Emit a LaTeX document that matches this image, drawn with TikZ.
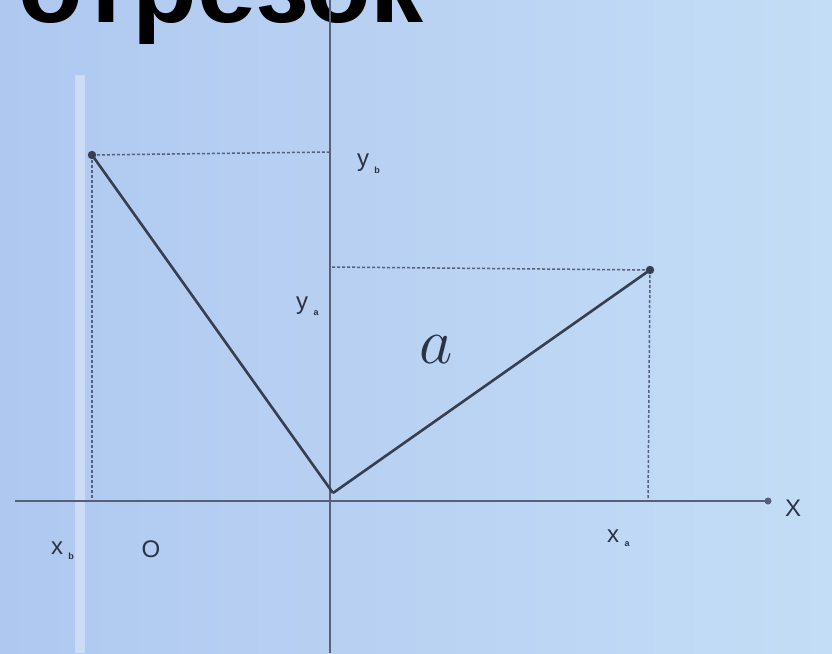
\documentclass[tikz,border=0pt]{standalone}
\usepackage{fontspec}
\setmainfont{Liberation Sans}
\usetikzlibrary{arrows.meta}
\definecolor{bgL}{HTML}{AFC8F0}
\definecolor{bgR}{HTML}{C4DDF6}
\definecolor{axisc}{HTML}{56607A}
\definecolor{segc}{HTML}{363E50}
\definecolor{lblc}{HTML}{2A3244}
\tikzset{
  axis/.style={axisc, line width=2.2pt},
  seg/.style={segc, line width=2.6pt},
  guide/.style={axisc, line width=1.5pt, dash pattern=on 3pt off 2pt},
  lbl/.style={lblc, font=\fontsize{24}{24}\selectfont},
  sub/.style={lblc, font=\fontsize{9}{9}\selectfont\bfseries}
}
\begin{document}
\begin{tikzpicture}[x=1pt,y=-1pt]
\shade[left color=bgL, right color=bgR] (0,0) rectangle (832,653);
\useasboundingbox (0,0) rectangle (832,653);
% light vertical band
\fill[white, opacity=0.35] (75,75) rectangle (85,653);
% title
\node[anchor=base west, inner sep=0, font=\fontsize{106}{106}\selectfont\bfseries, text=black] (title) at (18,22) {отрезок};
% points
\coordinate (O) at (333,493);
\coordinate (A) at (650,270);
\coordinate (B) at (92,155);
\coordinate (Ax) at (648,501);
\coordinate (Bx) at (92,501);
\coordinate (Ay) at (330,267);
\coordinate (By) at (330,152);
\coordinate (xl) at (15,501);
\coordinate (xr) at (768,501);
\coordinate (yt) at (330,0);
\coordinate (yb) at (330,653);
% axes
\draw[axis] (xl) -- (xr);
\fill[axisc] (xr) circle (3.5);
\draw[axisc, line width=1.8pt] (yt) -- (yb);
% guides
\draw[guide] (B) -- (By);
\draw[guide] (B) -- (Bx);
\draw[guide] (A) -- (Ay);
\draw[guide] (A) -- (Ax);
% segments
\draw[seg] (O) -- (A);
\draw[seg] (O) -- (B);
\fill[segc] (A) circle (4.2);
\fill[segc] (B) circle (4.2);
% labels
\node[lbl] (lX) at (793,508) {X};
\node[lbl] (lO) at (151,549) {O};
\node[lbl] (lxb) at (57,548) {x};
\node[sub] at (71,556) {b};
\node[lbl] (lxa) at (613,536) {x};
\node[sub] at (627,544) {a};
\node[lbl] (lyb) at (363,163) {y};
\node[sub] at (377,170) {b};
\node[lbl] (lya) at (302,306) {y};
\node[sub] at (316,313) {a};
\node[lblc, font=\fontsize{24}{24}\selectfont] (la) at (436,350) {\scalebox{2.6}{$a$}};
\end{tikzpicture}
\end{document}
